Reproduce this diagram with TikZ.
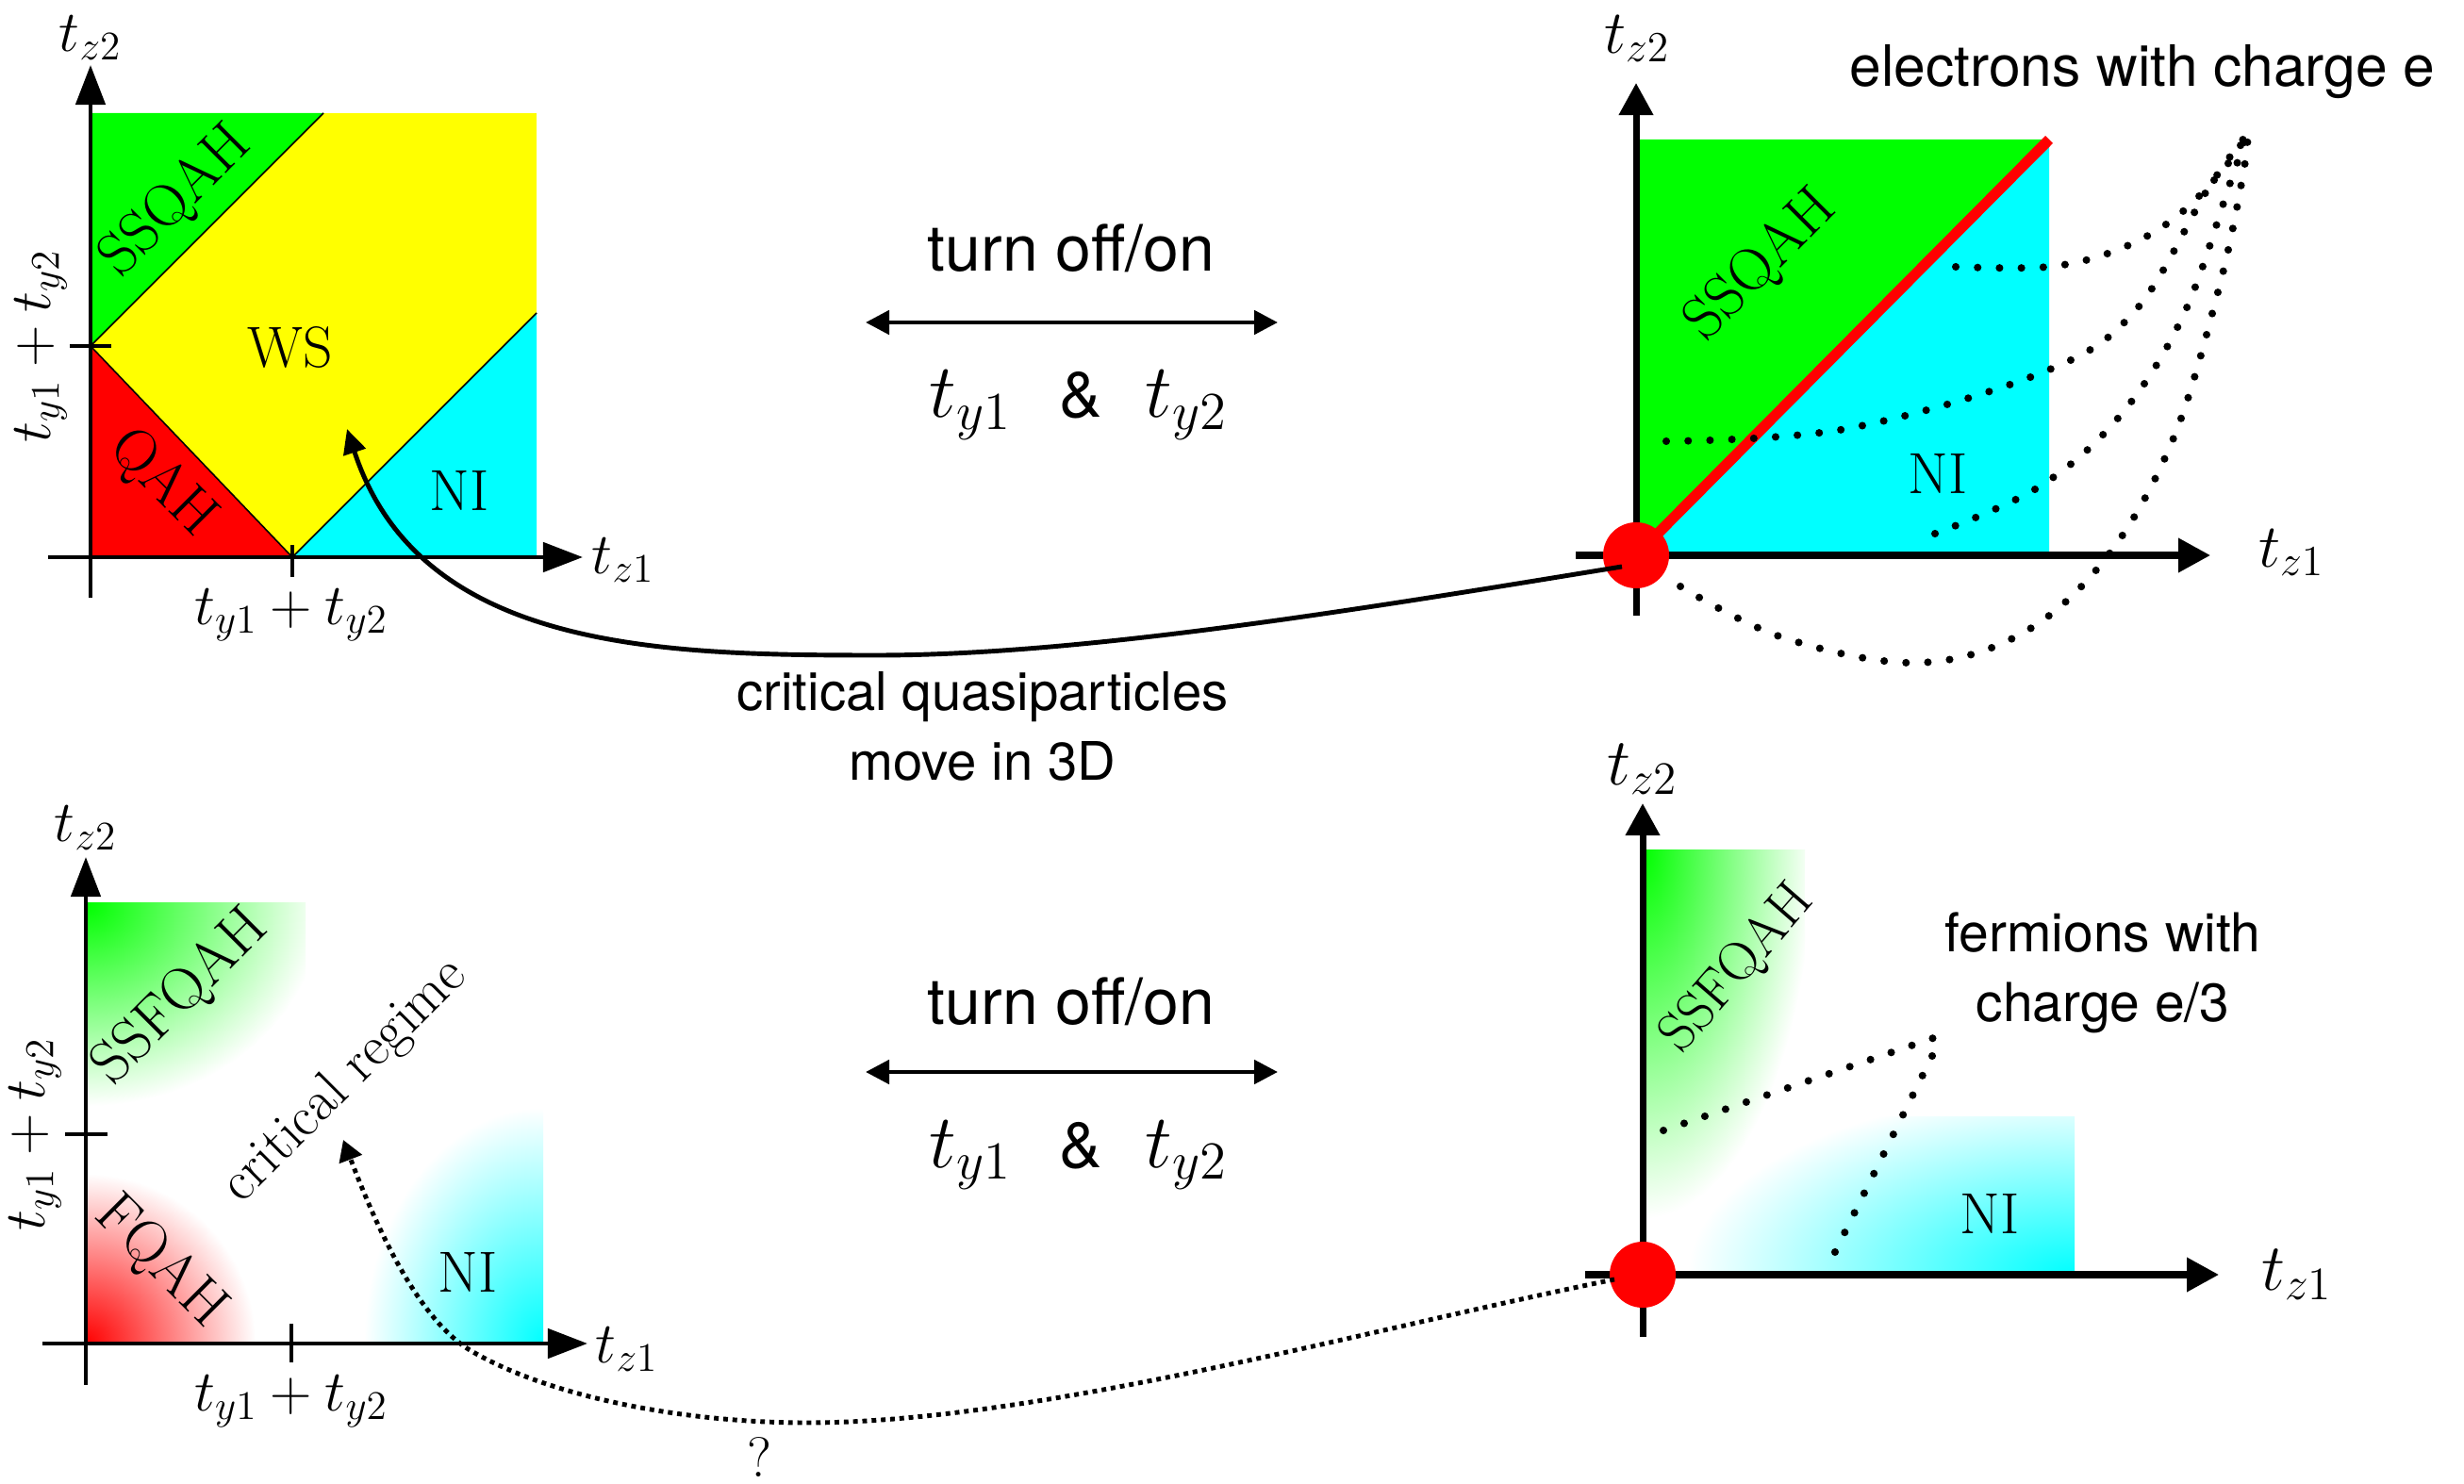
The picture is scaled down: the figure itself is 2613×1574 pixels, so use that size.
\RequirePackage{fix-cm}
\documentclass[tikz,border=0pt]{standalone}
\usepackage{fontspec}
\newfontfamily\hv{TeX Gyre Heros}
\usetikzlibrary{arrows.meta}
\definecolor{cyn}{RGB}{0,255,255}
\definecolor{grn}{RGB}{0,255,0}
\definecolor{ylw}{RGB}{255,255,0}
\definecolor{rd}{RGB}{255,0,0}
\newcommand\fsz[2]{\fontsize{#1pt}{#2pt}\selectfont}
\pgfdeclareradialshading{gfade}{\pgfpoint{0bp}{0bp}}{color(0bp)=(grn); color(25bp)=(white); color(50bp)=(white)}
\pgfdeclareradialshading{rfade}{\pgfpoint{0bp}{0bp}}{color(0bp)=(rd); color(25bp)=(white); color(50bp)=(white)}
\pgfdeclareradialshading{cfade}{\pgfpoint{0bp}{0bp}}{color(0bp)=(cyn); color(25bp)=(white); color(50bp)=(white)}
\begin{document}
\begin{tikzpicture}[x=0.01cm,y=-0.01cm,
  axA/.style={line width=1.3pt,-{Triangle[length=0.42cm,width=0.31cm]}},
  axB/.style={line width=2pt,-{Triangle[length=0.34cm,width=0.35cm]}},
  tickmark/.style={line width=1.3pt},
  bnd/.style={line width=0.45pt},
  lblA/.style={font=\fsz{17.5}{20}},
  lblB/.style={font=\fsz{18.5}{22}},
  lblC/.style={font=\fsz{20}{24}},
  reg/.style={font=\fsz{17.5}{20}},
  regr/.style={font=\fsz{18}{21}},
  sanslbl/.style={font=\hv\fsz{#1}{21}, align=center},
  dots/.style={line width=2.3pt, line cap=round, dash pattern=on 0pt off 6.6pt},
  dblarr/.style={line width=1.4pt,{Triangle[length=0.25cm,width=0.25cm]}-{Triangle[length=0.25cm,width=0.25cm]}},
  curv/.style={line width=1.4pt,-{Triangle[length=0.26cm,width=0.24cm]}},
  dotarr/.style={line width=1.4pt,dash pattern=on 1.4pt off 1.4pt,-{Triangle[length=0.22cm,width=0.25cm]}},
  critdot/.style={circle, fill=rd, minimum size=0.7cm, inner sep=0pt}
]
\useasboundingbox (0,0) rectangle (2613,1574);

% ---------------- top left ----------------
\fill[ylw] (96,120) rectangle (569,591);
\fill[grn] (96,367) -- (96,120) -- (343,120) -- cycle;
\fill[rd] (96,367) -- (96,591) -- (310,591) -- cycle;
\fill[cyn] (310,591) -- (569,591) -- (569,332) -- cycle;
\draw[bnd] (96,367) -- (343,120);
\draw[bnd] (96,367) -- (310,591);
\draw[bnd] (310,591) -- (569,332);
\draw[axA] (96,634) -- (96,69);
\draw[axA] (51,591) -- (618,591);
\draw[tickmark] (74,367) -- (118,367);
\draw[tickmark] (310,578) -- (310,612);
\node[lblA] (tlz2) at (96,40) {$t_{z2}$};
\node[lblA] (tlz1) at (661,594) {$t_{z1}$};
\node[lblA] (tlx) at (309,652) {$t_{y1}+t_{y2}$};
\node[lblA, rotate=90, inner sep=1pt] (tly) at (43,367) {$t_{y1}+t_{y2}$};
\node[regr, rotate=45] (tlssqah) at (187,214) {SSQAH};
\node[reg] (tlws) at (308,368) {WS};
\node[regr, rotate=-45] (tlqah) at (172,513) {QAH};
\node[reg] (tlni) at (487,520) {NI};

% ---------------- top right ----------------
\fill[grn] (1735,589) -- (1735,148) -- (2173,148) -- cycle;
\fill[cyn] (1735,589) -- (2173,589) -- (2173,148) -- cycle;
\draw[rd, line width=3.2pt] (1735,589) -- (2173,148);
\draw[axB] (1735,653) -- (1735,88);
\draw[axB] (1671,589) -- (2344,589);
\node[lblB] (trz2) at (1736,41) {$t_{z2}$};
\node[lblB] (trz1) at (2430,586) {$t_{z1}$};
\node[regr, rotate=45] (trssqah) at (1868,282) {SSQAH};
\node[reg] (trni) at (2055,502) {NI};
\node[sanslbl=17.2] (electrons) at (2272,76) {electrons with charge e};
\draw[dots] plot[smooth,tension=0.6] coordinates {(2074,283) (2172,283) (2243,266) (2304,233) (2356,182) (2384,141)};
\draw[dots] plot[smooth,tension=0.6] coordinates {(1767,468) (1957,455) (2166,395) (2264,330) (2341,201) (2384,141)};
\draw[dots] plot[smooth,tension=0.6] coordinates {(2052,566) (2163,516) (2249,440) (2316,333) (2366,191) (2384,141)};
\draw[dots] plot[smooth,tension=0.6] coordinates {(1782,622) (1890,676) (2031,703) (2144,672) (2234,591) (2304,467) (2353,306) (2378,189) (2384,141)};
\node[critdot] (dotT) at (1735,589) {};

% ---------------- top middle ----------------
\node[sanslbl=19.3] (offonT) at (1136,263) {turn off/on};
\coordinate (dlT) at (918,342);
\coordinate (drT) at (1355,342);
\draw[dblarr] (dlT) -- (drT);
\node[font=\fsz{23}{27}, anchor=base] (ty1T) at (1029,443) {$t_{y1}$};
\node[font=\hv\fsz{19.3}{23}, anchor=base] (ampT) at (1146,443) {\&};
\node[font=\fsz{23}{27}, anchor=base] (ty2T) at (1258,443) {$t_{y2}$};

% curved solid arrow
\coordinate (qpStart) at (1720,601);
\coordinate (qpEnd) at (368,455);
\draw[curv] (qpStart) .. controls (1450,645) and (1150,695) .. (930,695)
  .. controls (700,695) and (445,690) .. (qpEnd);
\node[sanslbl=16] (crit) at (1042,770) {critical quasiparticles\\move in 3D};

% ---------------- bottom left ----------------
\begin{scope}
  \clip (91,958) rectangle (324,1425);
  \shade[shading=gfade] (91,958) ellipse [x radius=2.5cm, y radius=2.15cm];
\end{scope}
\begin{scope}
  \clip (91,958) rectangle (576,1425);
  \shade[shading=rfade] (91,1425) circle [radius=1.8cm];
\end{scope}
\begin{scope}
  \clip (91,958) rectangle (576,1425);
  \shade[shading=cfade] (576,1425) ellipse [x radius=1.9cm, y radius=2.5cm];
\end{scope}
\draw[axA] (91,1469) -- (91,909);
\draw[axA] (45,1425) -- (623,1425);
\draw[tickmark] (69,1203) -- (114,1203);
\draw[tickmark] (309,1404) -- (309,1445);
\node[lblA] (blz2) at (91,878) {$t_{z2}$};
\node[lblA] (blz1) at (665,1431) {$t_{z1}$};
\node[lblA] (blx) at (309,1486) {$t_{y1}+t_{y2}$};
\node[lblA, rotate=90, inner sep=1pt] (bly) at (37,1203) {$t_{y1}+t_{y2}$};
\node[regr, rotate=45] (blssf) at (192,1058) {SSFQAH};
\node[font=\fsz{17}{20}, rotate=45] (blcrit) at (366,1147) {critical regime};
\node[regr, rotate=-45] (blfqah) at (170,1339) {FQAH};
\node[reg] (blni) at (496,1349) {NI};

% ---------------- bottom right ----------------
\begin{scope}
  \clip (1742,902) rectangle (1914,1352);
  \shade[shading=gfade] (1742,902) ellipse [x radius=1.8cm, y radius=3.9cm];
\end{scope}
\begin{scope}
  \clip (1742,1184) rectangle (2200,1352);
  \shade[shading=cfade] (2200,1352) ellipse [x radius=4.1cm, y radius=1.95cm];
\end{scope}
\draw[axB] (1742,1418) -- (1742,852);
\draw[axB] (1681,1352) -- (2353,1352);
\node[lblC] (brz2) at (1742,816) {$t_{z2}$};
\node[lblC] (brz1) at (2436,1352) {$t_{z1}$};
\node[font=\fsz{16.5}{20}, rotate=49] (brssf) at (1843,1028) {SSFQAH};
\node[reg] (brni) at (2110,1287) {NI};
\node[sanslbl=16.2] (fermions) at (2230,1032) {fermions with\\charge e/3};
\draw[dots] (1764,1199) -- (2059,1098);
\draw[dots] (2049,1120) -- (1942,1336);
\node[critdot] (dotB) at (1742,1352) {};

% ---------------- bottom middle ----------------
\node[sanslbl=19.3] (offonB) at (1136,1062) {turn off/on};
\coordinate (dlB) at (918,1137);
\coordinate (drB) at (1355,1137);
\draw[dblarr] (dlB) -- (drB);
\node[font=\fsz{23}{27}, anchor=base] (ty1B) at (1029,1238) {$t_{y1}$};
\node[font=\hv\fsz{19.3}{23}, anchor=base] (ampB) at (1146,1238) {\&};
\node[font=\fsz{23}{27}, anchor=base] (ty2B) at (1258,1238) {$t_{y2}$};

% dotted arrow
\coordinate (fqStart) at (1712,1357);
\coordinate (fqEnd) at (364,1209);
\draw[dotarr] (fqStart) .. controls (1450,1410) and (1100,1509) .. (856,1509)
  .. controls (720,1509) and (580,1480) .. (500,1433)
  .. controls (440,1398) and (395,1290) .. (fqEnd);
\node[font=\fsz{17}{20}, inner sep=0pt] (qmark) at (805,1546) {?};
\end{tikzpicture}
\end{document}
